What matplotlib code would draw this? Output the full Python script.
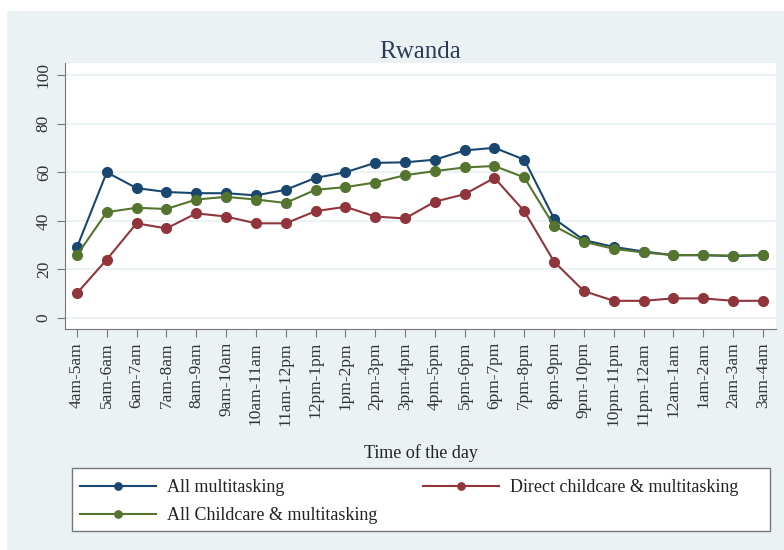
import matplotlib.pyplot as plt
from matplotlib.patches import Rectangle

plt.rcParams['font.family'] = ['Liberation Serif', 'DejaVu Serif']

hours = ['4am-5am', '5am-6am', '6am-7am', '7am-8am', '8am-9am', '9am-10am',
         '10am-11am', '11am-12pm', '12pm-1pm', '1pm-2pm', '2pm-3pm', '3pm-4pm',
         '4pm-5pm', '5pm-6pm', '6pm-7pm', '7pm-8pm', '8pm-9pm', '9pm-10pm',
         '10pm-11pm', '11pm-12am', '12am-1am', '1am-2am', '2am-3am', '3am-4am']

all_multi = [29.1, 60.0, 53.5, 51.9, 51.4, 51.4, 50.5, 52.8, 57.7, 60.0, 63.9, 64.1,
             65.2, 69.0, 70.1, 65.2, 40.9, 32.1, 29.3, 27.4, 25.9, 25.9, 25.5, 25.9]
direct_child = [10.2, 24.1, 39.0, 36.9, 43.1, 41.8, 39.0, 39.0, 44.0, 45.8, 41.8, 41.0,
                47.9, 51.0, 57.7, 44.0, 23.2, 11.1, 7.1, 7.1, 8.1, 8.1, 7.1, 7.1]
all_child = [25.9, 43.6, 45.4, 44.9, 48.8, 49.9, 48.8, 47.4, 52.8, 53.9, 55.8, 58.8,
             60.5, 62.0, 62.6, 57.9, 37.9, 31.4, 28.5, 27.0, 25.9, 25.9, 25.7, 25.9]

bg = '#eaf2f3'
navy = '#1a476f'
maroon = '#90353b'
green = '#55752f'

fig = plt.figure(figsize=(7.84, 5.5), dpi=100)
fig.patch.set_facecolor('white')
fig.patches.append(Rectangle((7 / 784, 0), 1, 1 - 11 / 550, transform=fig.transFigure,
                             facecolor=bg, edgecolor='none', zorder=-10))

ax = fig.add_axes([65 / 784, 1 - 329 / 550, (776 - 65) / 784, (329 - 63) / 550])
ax.set_facecolor('white')

x = list(range(len(hours)))
l1, = ax.plot(x, all_multi, color=navy, marker='o', markersize=7, linewidth=1.5,
              label='All multitasking', zorder=3)
l3, = ax.plot(x, all_child, color=green, marker='o', markersize=7, linewidth=1.5,
              label='All Childcare & multitasking', zorder=4)
l2, = ax.plot(x, direct_child, color=maroon, marker='o', markersize=7, linewidth=1.5,
              label='Direct childcare & multitasking', zorder=3)

ax.set_xlim(-0.4, 23.44)
ax.set_ylim(-4.5, 105)
ax.set_yticks([0, 20, 40, 60, 80, 100])
ax.set_xticks(x)
ax.set_xticklabels(hours, rotation=90)
ax.yaxis.grid(True, color=bg, linewidth=1.5)
ax.set_axisbelow(True)
for s in ['top', 'right']:
    ax.spines[s].set_visible(False)
for s in ['left', 'bottom']:
    ax.spines[s].set_color('#777777')
ax.tick_params(axis='both', colors='#777777', length=6, labelcolor='#333333', labelsize=12.5)
for lab in ax.get_yticklabels():
    lab.set_rotation(90)
    lab.set_va('center')

fig.text(420.5 / 784, 1 - 52 / 550, 'Rwanda', ha='center', va='center',
         fontsize=18, color='#2b3a55')
fig.text(420.5 / 784, 1 - 453 / 550, 'Time of the day', ha='center', va='center',
         fontsize=13, color='#222222')

# legend frame drawn separately so the box can be wider than its entries
fig.patches.append(Rectangle((72 / 784, 1 - 531 / 550), (770 - 72) / 784, (531 - 468) / 550,
                             transform=fig.transFigure, facecolor='white',
                             edgecolor='#777777', linewidth=1, zorder=1))
leg = fig.legend(handles=[l1, l3, l2], ncol=2, frameon=False,
                 bbox_to_anchor=(80 / 784, 1 - 479 / 550), loc='upper left',
                 fontsize=13, handlelength=4.2, handletextpad=0.6,
                 borderpad=0, borderaxespad=0, labelspacing=0.6, columnspacing=2.55,
                 markerscale=0.75)
for t in leg.get_texts():
    t.set_color('#222222')

fig.savefig('out.png', dpi=100)
